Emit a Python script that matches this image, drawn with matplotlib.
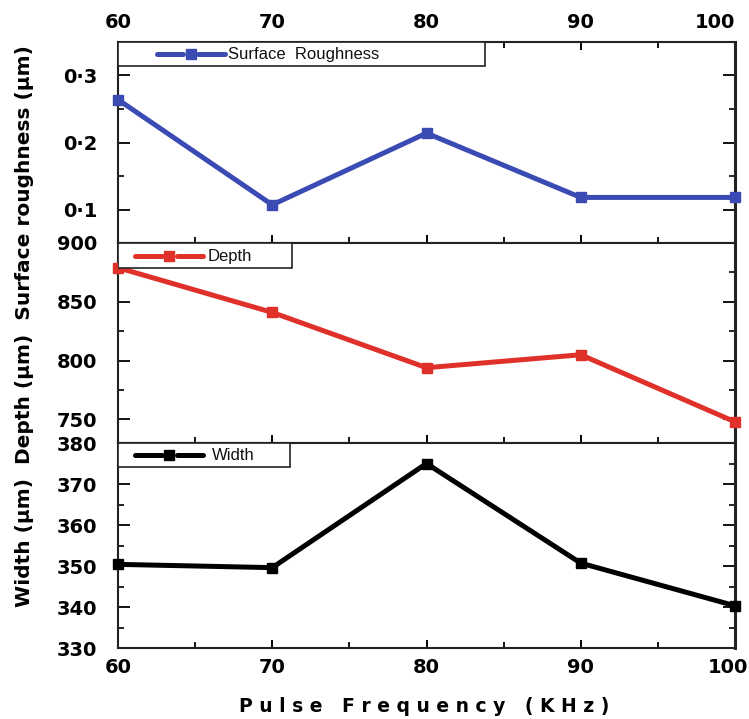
import matplotlib
matplotlib.use("Agg")
import matplotlib.pyplot as plt
import matplotlib.transforms as mtransforms
from matplotlib.patches import Rectangle
from matplotlib.lines import Line2D
from matplotlib.ticker import MultipleLocator, FuncFormatter

freq = [60, 70, 80, 90, 100]
roughness = [0.264, 0.107, 0.214, 0.118, 0.118]
depth = [879, 841, 794, 805, 748]
width = [350.4, 349.6, 375.0, 350.7, 340.3]

x_ticks = [60, 70, 80, 90, 100]
series_names = ["Surface  Roughness", "Depth", "Width"]

BLUE = "#3a4bb4"
RED = "#e0302a"
BLACK = "#000000"

W, H = 749, 719
fig = plt.figure(figsize=(W / 100, H / 100), dpi=100)

left = 118 / W
right = 735 / W
bounds = [(42, 243), (243, 443), (443, 648)]
axes = []
for (t, b) in bounds:
    ax = fig.add_axes([left, 1 - b / H, right - left, (b - t) / H])
    axes.append(ax)


def style(ax, top_ticks):
    for s in ax.spines.values():
        s.set_linewidth(1.5)
        s.set_color("#222222")
    ax.spines["right"].set_linewidth(2.2)
    ax.set_xlim(60, 100)
    ax.xaxis.set_major_locator(MultipleLocator(10))
    ax.xaxis.set_minor_locator(MultipleLocator(5))
    ax.tick_params(axis="both", which="both", direction="in",
                   top=top_ticks, right=True, bottom=True, left=True)
    ax.tick_params(axis="x", which="major", length=6, width=1.4)
    ax.tick_params(axis="x", which="minor", length=4, width=1.3)
    ax.tick_params(axis="y", which="major", length=8.5, width=1.3, pad=15)
    ax.tick_params(axis="y", which="minor", length=4.5, width=1.2)


# Top panel: surface roughness
ax1 = axes[0]
ax1.plot(freq, roughness, color=BLUE, lw=3.6, marker="s", ms=7, clip_on=False, zorder=3)
ax1.set_ylim(0.05, 0.35)
ax1.yaxis.set_major_locator(MultipleLocator(0.1))
ax1.yaxis.set_minor_locator(MultipleLocator(0.05))
ax1.yaxis.set_major_formatter(FuncFormatter(lambda v, p: ("%.1f" % v).replace(".", "·") if v < 0.34 else ""))

# Middle panel: depth
ax2 = axes[1]
ax2.plot(freq, depth, color=RED, lw=3.6, marker="s", ms=7, clip_on=False, zorder=3)
ax2.set_ylim(730, 900)
ax2.yaxis.set_major_locator(MultipleLocator(50))
ax2.yaxis.set_minor_locator(MultipleLocator(25))
ax2.yaxis.set_major_formatter(FuncFormatter(lambda v, p: "%d" % v))

# Bottom panel: width
ax3 = axes[2]
ax3.plot(freq, width, color=BLACK, lw=3.6, marker="s", ms=7, clip_on=False, zorder=3)
ax3.set_ylim(330, 380)
ax3.yaxis.set_major_locator(MultipleLocator(10))
ax3.yaxis.set_minor_locator(MultipleLocator(5))
ax3.yaxis.set_major_formatter(FuncFormatter(lambda v, p: "%d" % v))

style(ax1, True)
style(ax2, False)
style(ax3, False)
for ax in axes:
    for lab in ax.get_yticklabels():
        lab.set_fontfamily("DejaVu Sans")
        lab.set_fontweight("bold")
        lab.set_fontsize(14)

ax1.tick_params(axis="x", labelbottom=False, labeltop=True, pad=7)
ax2.tick_params(axis="x", labelbottom=False, labeltop=False)
ax3.tick_params(axis="x", labelbottom=True, labeltop=False, pad=7)
for ax, dx in ((ax1, 0), (ax3, 13)):
    ax.set_xticks(x_ticks)
    labs = ax.set_xticklabels([str(v) for v in x_ticks], fontfamily="DejaVu Sans",
                              fontweight="bold", fontsize=14)
    last = labs[-1]
    last.set_horizontalalignment("right")
    last.set_transform(last.get_transform() +
                       mtransforms.ScaledTranslation(dx / 100, 0, fig.dpi_scale_trans))

# Legend boxes drawn in axes fraction
legend_specs = [
    (ax1, BLUE, series_names[0], (0.0, 0.881, 0.595, 0.119), (0.063, 0.173), 0.94, 0.178),
    (ax2, RED, series_names[1], (0.0, 0.875, 0.282, 0.125), (0.028, 0.138), 0.935, 0.146),
    (ax3, BLACK, series_names[2], (0.0, 0.883, 0.279, 0.117), (0.028, 0.138), 0.941, 0.152),
]
for ax, col, name, (bx, by, bw, bh), (lx0, lx1), ly, tx in legend_specs:
    ax.add_patch(Rectangle((bx, by), bw, bh, transform=ax.transAxes, fill=True,
                           facecolor="white", edgecolor="#222222", lw=1.2, zorder=4))
    xm = (lx0 + lx1) / 2
    g = 0.012
    ax.add_line(Line2D([lx0, xm - g], [ly, ly], transform=ax.transAxes, color=col,
                       lw=3.6, zorder=5, solid_capstyle="round"))
    ax.add_line(Line2D([xm + g, lx1], [ly, ly], transform=ax.transAxes, color=col,
                       lw=3.6, zorder=5, solid_capstyle="round"))
    ax.add_line(Line2D([xm], [ly], transform=ax.transAxes, color=col, marker="s",
                       ms=7, lw=0, zorder=6))
    ax.text(tx, ly, name, transform=ax.transAxes, fontfamily="Liberation Sans",
            fontsize=12, va="center", ha="left", zorder=6, color="#111111")

fig.text(25 / W, 1 - 326 / H, "Width (µm)  Depth (µm)  Surface roughness (µm)",
         rotation=90, ha="center", va="center", fontfamily="DejaVu Sans",
         fontweight="bold", fontsize=14.5)

xlabel = "   ".join(" ".join(w) for w in "Pulse Frequency (KHz)".split(" "))
fig.text(424 / W, 1 - 706 / H, xlabel, ha="center", va="center",
         fontfamily="DejaVu Sans", fontweight="bold", fontsize=13.5)

fig.savefig("out.png", dpi=100)
